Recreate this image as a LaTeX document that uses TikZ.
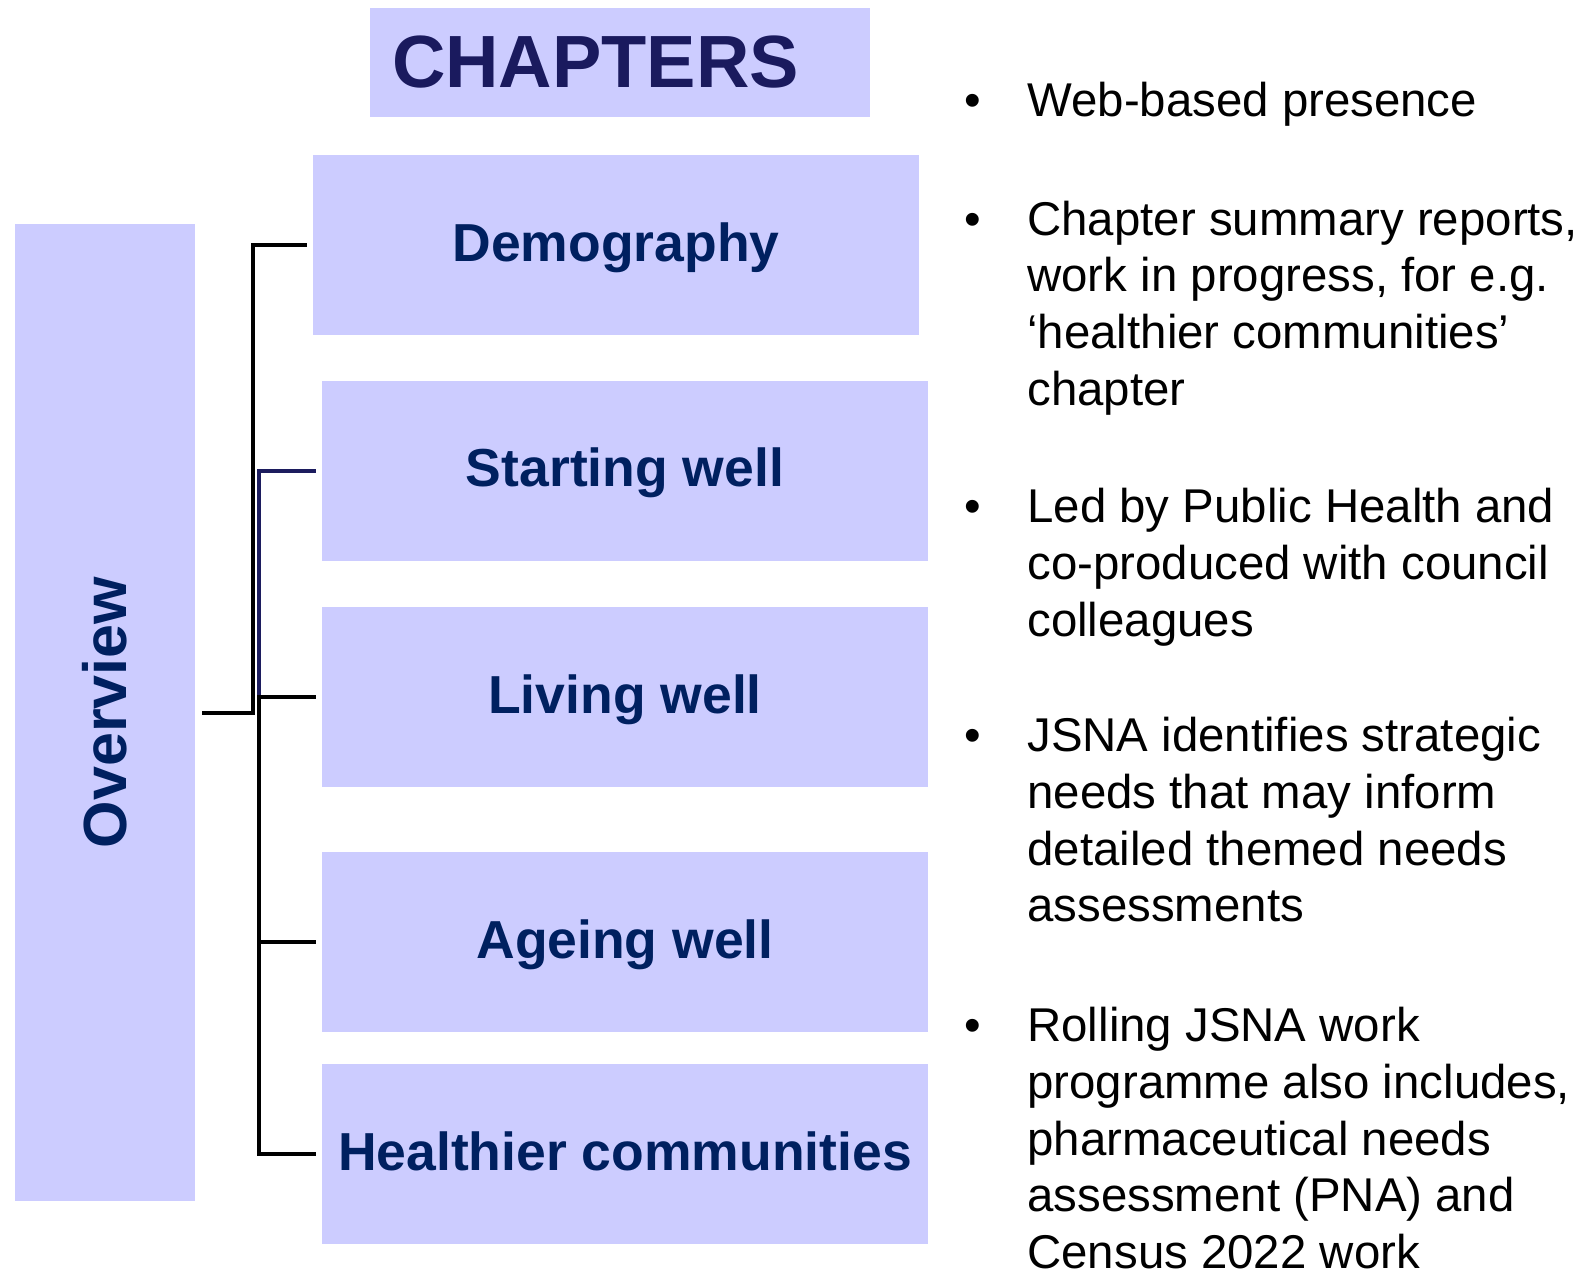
\documentclass[tikz,border=0pt]{standalone}
\usepackage{fontspec}
\setmainfont{Liberation Sans}
\definecolor{boxfill}{HTML}{CCCCFF}
\definecolor{labelblue}{HTML}{002060}
\definecolor{headnavy}{HTML}{1A1A5E}
\definecolor{linknavy}{HTML}{1C1C5E}
% lines of a note, aligned on the first baseline
\newcommand{\notelines}[1]{\begin{tabular}[t]{@{}l@{}}#1\end{tabular}}
\tikzset{
  chapbox/.style={fill=boxfill, inner sep=0pt, inner xsep=11pt, text width=228pt, align=left,
    minimum height=54.5pt, text=headnavy, font=\fontsize{37pt}{44pt}\selectfont\bfseries},
  topic/.style={fill=boxfill, inner sep=0pt, minimum width=303pt, minimum height=90pt,
    text height=21.4pt, text depth=5.4pt,
    text=labelblue, font=\fontsize{26.75pt}{32pt}\selectfont\bfseries},
  sidebar/.style={fill=boxfill, inner sep=0pt, minimum width=90pt, minimum height=488.5pt,
    text=labelblue, font=\fontsize{30.5pt}{36pt}\selectfont\bfseries},
  note/.style={anchor=base west, inner sep=0pt,
    font=\fontsize{23.7pt}{28.35pt}\selectfont},
  bulletdot/.style={anchor=base, inner sep=0pt, font=\fontsize{23.7pt}{28.35pt}\selectfont},
  link/.style={line width=2pt},
}
\begin{document}
\begin{tikzpicture}[x=0.5pt,y=0.5pt,yscale=-1,xscale=1]
\useasboundingbox (0,0) rectangle (1587,1274);

% heading and chapter boxes
\node[chapbox] (chap) at (620,62.5) {CHAPTERS};
\node[sidebar] (over) at (105,712.5) {\rotatebox{90}{Overview}};
\node[topic] (demo) at (616,245) {Demography};
\node[topic] (start) at (625,470.5) {Starting well};
\node[topic] (living) at (625,697) {Living well};
\node[topic] (ageing) at (625,942) {Ageing well};
\node[topic] (healthy) at (625,1154) {Healthier communities};

% bus lines
\coordinate (busA) at (253,0);
\coordinate (busB) at (259,0);
\draw[link, shorten <=3.5pt, shorten >=3pt] (over.east) -- (over.east -| busA) |- (demo.west);
\draw[link, linknavy, shorten >=3pt] (busB |- over.east) |- (start.west);
\draw[link, shorten <=3pt, shorten >=3pt] (living.west) -| (busB |- healthy.west) -- (healthy.west);
\draw[link, shorten >=3pt] (busB |- ageing.west) -- (ageing.west);

% notes on the right
\node[bulletdot] (dot1) at (973,116.7) {•};
\node[note] (web) at (1027,116.7) {Web-based presence};
\node[bulletdot] (dot2) at (973,235) {•};
\node[note] (summary) at (1027,235) {\notelines{Chapter summary reports,\\work in progress, for e.g.\\‘healthier communities’\\chapter}};
\node[bulletdot] (dot3) at (973,522.7) {•};
\node[note] (led) at (1027,522.7) {\notelines{Led by Public Health and\\co-produced with council\\colleagues}};
\node[bulletdot] (dot4) at (973,751.7) {•};
\node[note] (needs) at (1027,751.7) {\notelines{JSNA identifies strategic\\needs that may inform\\detailed themed needs\\assessments}};
\node[bulletdot] (dot5) at (973,1041.7) {•};
\node[note] (rolling) at (1027,1041.7) {\notelines{Rolling JSNA work\\programme also includes,\\pharmaceutical needs\\assessment (PNA) and\\Census 2022 work}};

\end{tikzpicture}
\end{document}
